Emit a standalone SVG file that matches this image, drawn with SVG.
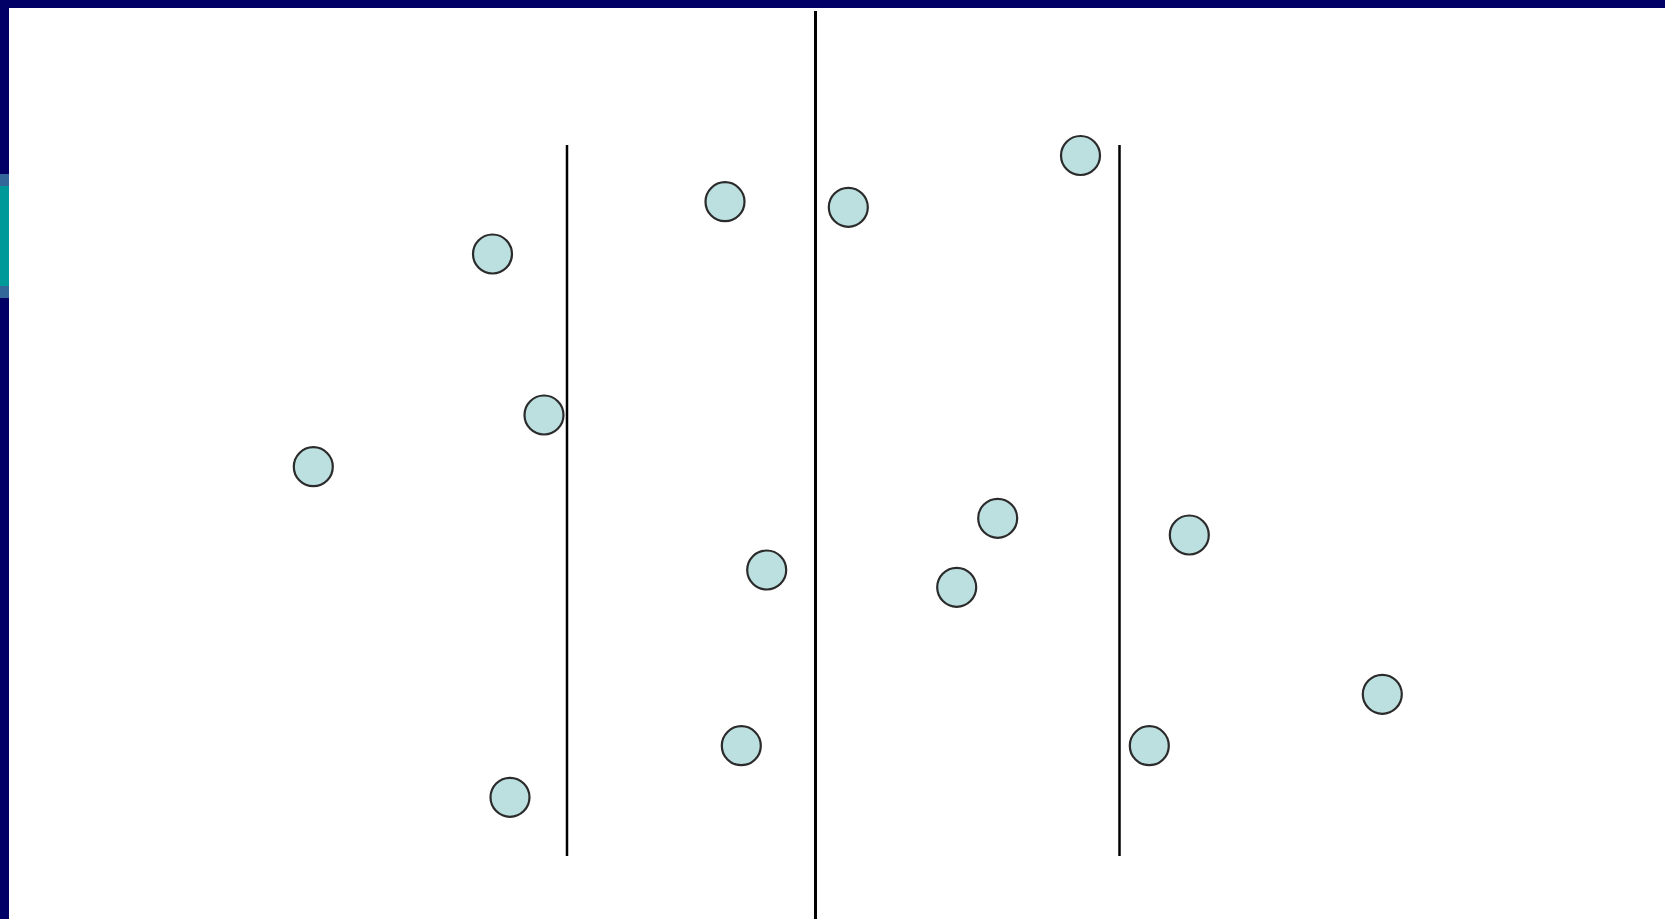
<svg xmlns="http://www.w3.org/2000/svg" width="1665" height="919" viewBox="0 0 1665 919">
<style>
.n{fill:#bcdfe0;stroke:#2b2b2b;stroke-width:2.2}
.l{stroke:#000;fill:none}
</style>
<rect x="0" y="0" width="1665" height="919" fill="#fff"/>
<rect x="0" y="0" width="1665" height="8" fill="#000066"/>
<rect x="0" y="0" width="9" height="919" fill="#000066"/>
<rect x="0" y="174" width="9" height="124" fill="#336699"/>
<rect x="0" y="186" width="9" height="100" fill="#009999"/>
<g id="lines">
<line class="l" x1="815.5" y1="11" x2="815.5" y2="919" stroke-width="3"/>
<line class="l" x1="567" y1="145" x2="567" y2="856" stroke-width="2.5"/>
<line class="l" x1="1119.5" y1="145" x2="1119.5" y2="856" stroke-width="2.5"/>
</g>
<g id="n1"><circle class="n" cx="492.5" cy="254" r="19.5"/></g>
<g id="n2"><circle class="n" cx="544" cy="415" r="19.5"/></g>
<g id="n3"><circle class="n" cx="313.3" cy="466.7" r="19.5"/></g>
<g id="n4"><circle class="n" cx="510" cy="797.3" r="19.5"/></g>
<g id="n5"><circle class="n" cx="725" cy="201.7" r="19.5"/></g>
<g id="n6"><circle class="n" cx="766.7" cy="570" r="19.5"/></g>
<g id="n7"><circle class="n" cx="741.3" cy="745.7" r="19.5"/></g>
<g id="n8"><circle class="n" cx="848.3" cy="207.3" r="19.5"/></g>
<g id="n9"><circle class="n" cx="1080.5" cy="155.5" r="19.5"/></g>
<g id="n10"><circle class="n" cx="997.7" cy="518.3" r="19.5"/></g>
<g id="n11"><circle class="n" cx="956.7" cy="587.3" r="19.5"/></g>
<g id="n12"><circle class="n" cx="1189.3" cy="535" r="19.5"/></g>
<g id="n13"><circle class="n" cx="1149.3" cy="745.7" r="19.5"/></g>
<g id="n14"><circle class="n" cx="1382.3" cy="694.3" r="19.5"/></g>
</svg>
